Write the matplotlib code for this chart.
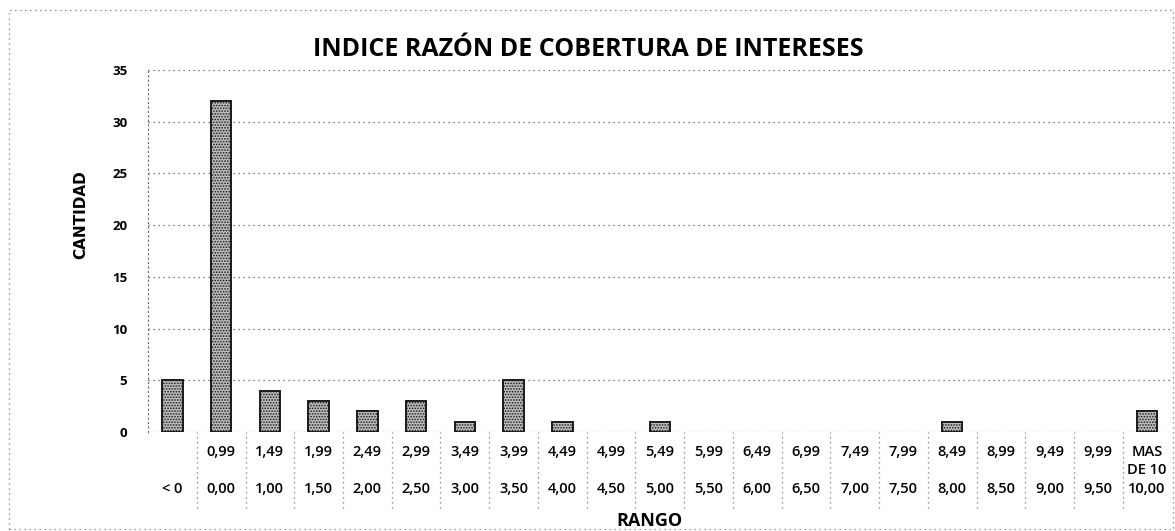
import numpy as np
import matplotlib.pyplot as plt
from matplotlib.patches import Rectangle
import matplotlib.transforms as mtransforms

# rangos (limite superior / limite inferior) y cantidades
upper = ['', '0,99', '1,49', '1,99', '2,49', '2,99', '3,49', '3,99', '4,49', '4,99',
         '5,49', '5,99', '6,49', '6,99', '7,49', '7,99', '8,49', '8,99', '9,49', '9,99',
         'MAS\nDE 10']
lower = ['< 0', '0,00', '1,00', '1,50', '2,00', '2,50', '3,00', '3,50', '4,00', '4,50',
         '5,00', '5,50', '6,00', '6,50', '7,00', '7,50', '8,00', '8,50', '9,00', '9,50',
         '10,00']
cantidad = [5, 32, 4, 3, 2, 3, 1, 5, 1, 0, 1, 0, 0, 0, 0, 0, 1, 0, 0, 0, 2]

plt.rcParams['font.family'] = ['Open Sans', 'DejaVu Sans']
plt.rcParams['hatch.linewidth'] = 0.8

fig = plt.figure(figsize=(11.75, 5.31), dpi=100)
ax = fig.add_axes([0.126, 0.1864, 0.871, 0.6817])

x = np.arange(len(cantidad))
vals = np.array(cantidad)
nz = vals > 0   # las barras en cero no se ven
ax.bar(x[nz], vals[nz], width=0.42, color='#bdbdbd', edgecolor='#1a1a1a',
       hatch='......', linewidth=1.4, zorder=3)

ax.set_xlim(-0.5, len(cantidad) - 0.5)
ax.set_ylim(0, 35)
ax.set_yticks(np.arange(0, 36, 5))
ax.yaxis.grid(True, linestyle=(0, (1, 3)), color='#555555', linewidth=0.9, zorder=0)

for s in ['top', 'right', 'bottom']:
    ax.spines[s].set_visible(False)
ax.spines['left'].set_linestyle((0, (1, 3)))
ax.spines['left'].set_color('#666666')

labels = []
for u, l in zip(upper, lower):
    if '\n' in u:
        labels.append(u + '\n' + l)
    else:
        labels.append(u + '\n\n' + l)
ax.set_xticks(x)
ax.set_xticklabels(labels, fontsize=10.5, fontweight='semibold', linespacing=1.45)
ax.tick_params(axis='x', length=0, pad=9)
ax.tick_params(axis='y', length=0, pad=15, labelsize=9.5)
for t in ax.get_yticklabels():
    t.set_fontweight('bold')

# separadores punteados entre rangos
trans = mtransforms.blended_transform_factory(ax.transData, ax.transAxes)
ax.vlines(x[:-1] + 0.5, -0.21, 0.0, transform=trans, colors='#777777',
          linestyles=(0, (1, 3)), linewidth=0.9, clip_on=False)

ax.set_title('INDICE RAZÓN DE COBERTURA DE INTERESES', fontsize=18,
             fontweight='bold', x=0.43, pad=10)
ax.set_xlabel('RANGO', fontsize=13, fontweight='bold')
ax.xaxis.set_label_coords(0.49, -0.222)
ax.set_ylabel('CANTIDAD', fontsize=11, fontweight='bold',
              family=['Liberation Sans Narrow', 'DejaVu Sans'])
ax.yaxis.set_label_coords(-0.058, 0.6)

fig.patches.append(Rectangle((0.008, 0.004), 0.99, 0.978, transform=fig.transFigure,
                             fill=False, linestyle=(0, (1, 3)), edgecolor='#777777',
                             linewidth=0.9))

fig.savefig('out.png', dpi=100)
